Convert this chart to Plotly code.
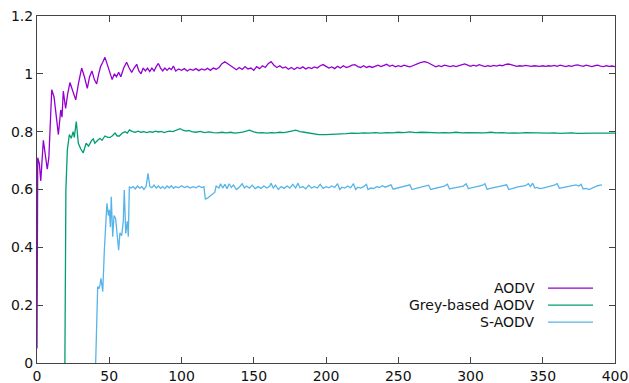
import plotly.graph_objects as go

# ---- data ----
aodv_x = [0, 0.5, 1.6, 2.6, 4.4, 5.5, 7.1, 8.2, 9.2, 10.2, 11.8, 13.3, 14.8, 16.4, 17.3, 18.2, 19.8, 21.2, 22.8, 24.8,
          26.8, 28.8, 30.9, 32.8, 34.8, 36.4, 38, 39.7, 41.3, 42.7, 44, 45.5, 47, 48.8, 50.5, 52, 53.6, 55, 56.5, 58,
          60, 62, 63.8, 65.5, 67.2, 69, 70.5, 72, 73.5, 75, 76.5, 78, 79.5, 81, 82.5, 84, 85.5, 87, 88.5, 90,
          91.5, 93, 94.4, 96, 98, 100, 102, 104, 106, 108, 110, 112, 114, 116, 118, 120, 122, 124, 126, 128,
          130, 132, 134, 136, 138, 140, 142, 144, 146, 148, 150, 152, 154, 156, 158, 160, 162, 164, 166, 168,
          170, 172, 174, 176, 178, 180, 182, 184, 186, 188, 190, 192, 194, 196, 198, 200, 202, 204, 206, 208,
          210, 212, 214, 216, 218, 220, 222, 224, 226, 228, 230, 232, 234, 236, 238, 240, 242, 244, 246, 248,
          250, 252, 254, 256, 258, 260, 262, 264, 266, 268, 270, 272, 274, 276, 278, 280, 282, 284, 286, 288,
          290, 292, 294, 296, 298, 300, 302, 304, 306, 308, 310, 312, 314, 316, 318, 320, 322, 324, 326, 328,
          330, 332, 334, 336, 338, 340, 342, 344, 346, 348, 350, 352, 354, 356, 358, 360, 362, 364, 366, 368,
          370, 372, 374, 376, 378, 380, 382, 384, 386, 388, 390, 392, 394, 396, 398, 400]
aodv_y = [0.05, 0.71, 0.69, 0.63, 0.77, 0.73, 0.67, 0.71, 0.83, 0.945, 0.92, 0.85, 0.79, 0.875, 0.85, 0.94, 0.88, 0.93, 0.97, 0.94,
          0.91, 0.97, 1.02, 0.99, 0.95, 0.99, 1.01, 0.98, 0.965, 1.0, 1.025, 1.04, 1.057, 1.03, 1.0, 0.98, 1.0, 0.99, 1.005, 0.99,
          1.02, 1.04, 1.02, 1.005, 1.02, 1.033, 1.01, 1.0, 1.02, 1.01, 1.02, 1.008, 1.02, 1.01, 1.025, 1.036, 1.02, 1.01, 1.02, 1.012,
          1.02, 1.015, 1.027, 1.01, 1.017, 1.012, 1.018, 1.01, 1.016, 1.012, 1.018, 1.011, 1.017, 1.013, 1.019, 1.012, 1.02, 1.016, 1.022, 1.035,
          1.042, 1.035, 1.025, 1.018, 1.014, 1.022, 1.015, 1.025, 1.017, 1.02, 1.012, 1.025, 1.018, 1.028, 1.022, 1.035, 1.042, 1.03, 1.022, 1.028,
          1.02, 1.024, 1.016, 1.022, 1.015, 1.022, 1.018, 1.024, 1.017, 1.022, 1.018, 1.024, 1.02, 1.028, 1.032, 1.026, 1.02, 1.024, 1.018, 1.026,
          1.02, 1.028, 1.022, 1.025, 1.03, 1.032, 1.025, 1.022, 1.028, 1.022, 1.026, 1.022, 1.027, 1.03, 1.025, 1.028, 1.033, 1.026, 1.03, 1.024,
          1.028, 1.025, 1.03, 1.027, 1.024, 1.028, 1.033, 1.036, 1.04, 1.042, 1.04, 1.034, 1.027, 1.024, 1.028, 1.025, 1.03, 1.027, 1.025, 1.028,
          1.025, 1.028, 1.031, 1.034, 1.03, 1.026, 1.03, 1.027, 1.032, 1.028, 1.025, 1.028, 1.026, 1.029, 1.027, 1.03, 1.028, 1.032, 1.034, 1.032,
          1.028, 1.026, 1.028, 1.027, 1.029, 1.027, 1.026, 1.028, 1.027, 1.026, 1.028, 1.026, 1.028, 1.027, 1.029, 1.026, 1.03, 1.028, 1.025, 1.028,
          1.026, 1.029, 1.031, 1.028, 1.026, 1.03, 1.027, 1.025, 1.028, 1.03, 1.027, 1.025, 1.028, 1.026, 1.027, 1.025]

grey_x = [19.3, 19.6, 20, 21, 22.4, 23.7, 25, 25.8, 27.2, 28.6, 30.3, 32, 33, 34, 35.7, 37.8, 39, 40, 42, 43.6,
          45, 47, 49, 50.5, 52, 54, 55.5, 57, 59, 61, 62.5, 64, 66, 68, 70, 72, 74, 76, 78, 80,
          82, 84, 86, 88, 90, 92, 94, 96, 99, 101, 103, 105, 107, 110, 113, 116, 119, 122, 125, 128,
          131, 134, 137, 140, 143, 147, 150, 153, 156, 159, 162, 165, 168, 171, 174, 177, 179, 182, 185, 188,
          191, 195, 200, 205, 210, 214, 218, 222, 226, 230, 234, 238, 242, 246, 250, 254, 258, 262, 266, 270,
          274, 278, 282, 286, 290, 294, 298, 302, 306, 310, 314, 318, 322, 326, 330, 334, 338, 342, 346, 350,
          354, 358, 362, 366, 370, 374, 378, 382, 386, 390, 394, 398, 400]
grey_y = [0.0, 0.35, 0.6, 0.737, 0.79, 0.777, 0.80, 0.78, 0.835, 0.76, 0.74, 0.727, 0.745, 0.76, 0.75, 0.77, 0.775, 0.76, 0.77, 0.777,
          0.77, 0.785, 0.78, 0.78, 0.785, 0.795, 0.785, 0.785, 0.795, 0.80, 0.795, 0.806, 0.80, 0.798, 0.802, 0.798, 0.80, 0.797, 0.80, 0.798,
          0.802, 0.799, 0.801, 0.797, 0.80, 0.802, 0.80, 0.804, 0.81, 0.805, 0.802, 0.804, 0.80, 0.798, 0.801, 0.797, 0.799, 0.797, 0.796, 0.798,
          0.796, 0.798, 0.795, 0.797, 0.799, 0.805, 0.799, 0.796, 0.797, 0.795, 0.797, 0.796, 0.798, 0.797, 0.799, 0.803, 0.805, 0.80, 0.798, 0.796,
          0.792, 0.79, 0.79, 0.791, 0.79, 0.793, 0.795, 0.794, 0.796, 0.795, 0.797, 0.795, 0.797, 0.796, 0.798, 0.797, 0.799, 0.797, 0.798, 0.797,
          0.798, 0.796, 0.797, 0.796, 0.798, 0.796, 0.797, 0.796, 0.797, 0.796, 0.798, 0.796, 0.797, 0.795, 0.796, 0.795, 0.797, 0.796, 0.795, 0.796,
          0.795, 0.796, 0.794, 0.795, 0.796, 0.794, 0.795, 0.796, 0.795, 0.795, 0.795, 0.795, 0.795]

saodv_x = [40.6, 41.5, 42, 43, 43.6, 44.3, 45.5, 46.6, 47.8, 48.4, 49.4, 50.1, 50.8, 51.4, 52.4, 53.3, 54.4, 55.6, 56.5, 57.4,
           58.6, 59.7, 60.4, 61.4, 62.5, 63.2, 63.9, 65, 66.5, 68, 69.5, 71, 72.5, 74, 75.5, 76.8, 78.1, 79.5, 81, 82.5,
           84, 85.5, 87, 88.5, 90, 91.5, 93, 94.5, 96, 98, 100, 102, 104, 106, 108, 110, 112, 114, 115.5, 116.5,
           118, 120, 122, 123, 124, 126, 127, 128.5, 130, 131.5, 133, 134.5, 136, 138, 140, 142, 143.5, 145, 147, 149,
           151, 153, 155, 157, 159, 161, 162, 163.5, 165, 167, 169, 171, 173, 175, 177, 179, 180.5, 182, 184, 186,
           188, 190, 192, 194, 196, 198, 200, 202, 204, 206, 208, 209.5, 211, 213, 215, 217, 219, 220.5, 222, 224,
           226, 228, 229, 231, 233, 235, 237, 239, 241, 243, 245, 246.5, 248, 250, 252, 254, 256, 258, 259.5, 261,
           263, 265, 267, 269, 271, 272.5, 274, 276, 278, 280, 282, 284, 285.5, 287, 289, 291, 293, 295, 297, 298.5,
           300, 302, 304, 306, 308, 310, 311.5, 313, 315, 317, 319, 321, 323, 325, 326.5, 328, 330, 332, 334, 336,
           338, 340, 341.5, 343, 344.5, 346, 348, 350, 352, 354, 356, 358, 360, 361.5, 363, 365, 367, 369, 371, 373,
           375, 376.5, 378, 380, 382, 384, 386, 388, 390, 391]
saodv_y = [0.0, 0.15, 0.264, 0.26, 0.27, 0.293, 0.247, 0.39, 0.495, 0.552, 0.51, 0.53, 0.47, 0.575, 0.437, 0.51, 0.50, 0.425, 0.39, 0.45,
           0.44, 0.49, 0.598, 0.448, 0.49, 0.437, 0.61, 0.605, 0.61, 0.602, 0.612, 0.605, 0.61, 0.60, 0.61, 0.656, 0.61, 0.606, 0.615, 0.605,
           0.612, 0.604, 0.61, 0.603, 0.612, 0.606, 0.613, 0.604, 0.61, 0.606, 0.613, 0.607, 0.611, 0.605, 0.61, 0.606, 0.612, 0.607, 0.61, 0.567,
           0.57, 0.578, 0.585, 0.59, 0.612, 0.605, 0.62, 0.605, 0.618, 0.603, 0.62, 0.607, 0.615, 0.60, 0.608, 0.62, 0.605, 0.612, 0.605, 0.615,
           0.603, 0.61, 0.604, 0.612, 0.605, 0.611, 0.622, 0.605, 0.615, 0.60, 0.61, 0.604, 0.612, 0.605, 0.618, 0.605, 0.622, 0.606, 0.61, 0.602,
           0.615, 0.605, 0.61, 0.605, 0.618, 0.604, 0.61, 0.606, 0.612, 0.607, 0.62, 0.60, 0.608, 0.605, 0.612, 0.606, 0.62, 0.60, 0.608, 0.605,
           0.61, 0.618, 0.60, 0.605, 0.603, 0.61, 0.607, 0.613, 0.608, 0.612, 0.616, 0.601, 0.603, 0.605, 0.608, 0.61, 0.612, 0.616, 0.60, 0.603,
           0.605, 0.607, 0.61, 0.612, 0.615, 0.60, 0.602, 0.604, 0.607, 0.61, 0.612, 0.618, 0.602, 0.604, 0.606, 0.608, 0.61, 0.612, 0.62, 0.603,
           0.605, 0.607, 0.61, 0.612, 0.614, 0.62, 0.60, 0.603, 0.605, 0.607, 0.609, 0.611, 0.613, 0.616, 0.60, 0.603, 0.605, 0.608, 0.61, 0.612,
           0.613, 0.62, 0.61, 0.622, 0.605, 0.607, 0.603, 0.605, 0.607, 0.609, 0.612, 0.615, 0.62, 0.604, 0.606, 0.608, 0.61, 0.612, 0.614, 0.616,
           0.612, 0.618, 0.602, 0.604, 0.60, 0.605, 0.61, 0.613, 0.615, 0.616]

series_names = ["AODV", "Grey-based AODV", "S-AODV"]
series_colors = ["#9400d3", "#009e73", "#56b4e9"]
x_ticks = [0, 50, 100, 150, 200, 250, 300, 350, 400]
y_ticks = [0, 0.2, 0.4, 0.6, 0.8, 1, 1.2]

FONT = "DejaVu Sans"
fig = go.Figure()
for xs, ys, name, col in zip([aodv_x, grey_x, saodv_x], [aodv_y, grey_y, saodv_y], series_names, series_colors):
    fig.add_trace(go.Scatter(x=xs, y=ys, mode="lines", name=name,
                             line=dict(color=col, width=1.3), showlegend=False))

# gnuplot-style legend: right-aligned text, line sample on the right
leg_y = [0.216, 0.167, 0.118]
for name, col, ly in zip(series_names, series_colors, leg_y):
    fig.add_annotation(xref="paper", yref="paper", x=0.865, y=ly, text=name, showarrow=False,
                       xanchor="right", yanchor="middle", font=dict(family=FONT, size=14, color="#111"))
    fig.add_shape(type="line", xref="paper", yref="paper", x0=0.884, x1=0.962, y0=ly, y1=ly,
                  line=dict(color=col, width=1.3))

axis_common = dict(showgrid=False, zeroline=False, showline=True, linecolor="#444", linewidth=1,
                   ticks="inside", ticklen=6, tickcolor="#444", mirror="allticks", automargin=False,
                   ticklabeloverflow="allow",
                   tickfont=dict(family=FONT, size=14, color="#111"))
fig.update_layout(
    width=629, height=383, autosize=False,
    margin=dict(l=37, r=14, t=16, b=20),
    paper_bgcolor="white", plot_bgcolor="white",
    xaxis=dict(range=[0, 400], tickvals=x_ticks, ticktext=[str(v) for v in x_ticks], **axis_common),
    yaxis=dict(range=[0, 1.2], tickvals=y_ticks, ticktext=[f"{v:g}" for v in y_ticks], **axis_common),
)
# remove the default 8px page margin so the figure fills the window exactly
fig.write_html("out.html", config={"displayModeBar": False},
               post_script="document.body.style.margin='0';document.body.style.overflow='hidden';")
